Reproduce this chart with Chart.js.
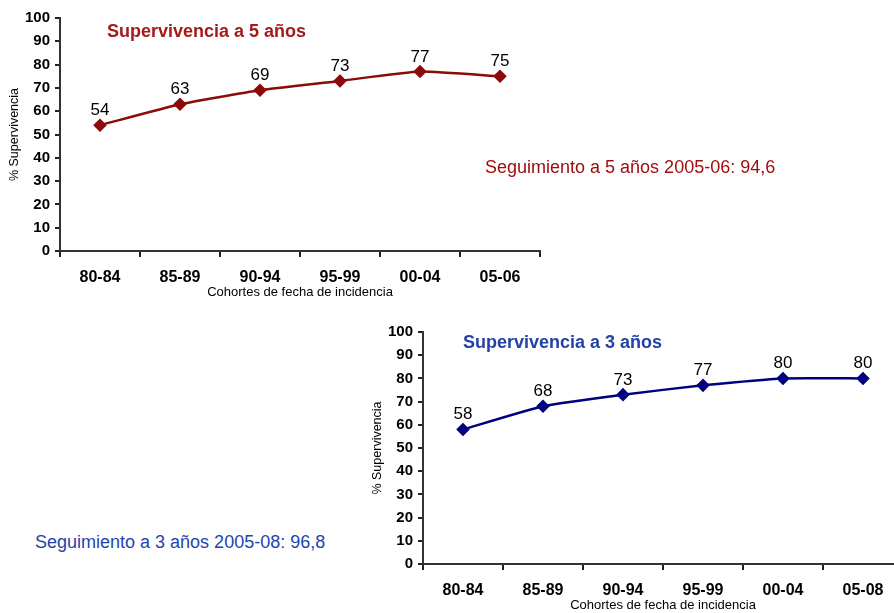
<!DOCTYPE html>
<html>
<head>
<meta charset="utf-8">
<script src="https://cdn.jsdelivr.net/npm/chart.js@4.4.1/dist/chart.umd.min.js"></script>
<style>
html,body{margin:0;padding:0;width:894px;height:613px;overflow:hidden;background:#fff;position:relative;font-family:"Liberation Sans",Arial,sans-serif}
canvas{position:absolute;display:block}
.t{position:absolute;white-space:nowrap;line-height:1;font-size:18px}
</style>
</head>
<body>
<canvas id="c1" width="560" height="300" style="left:0;top:0;width:560px;height:300px"></canvas>
<canvas id="c2" width="560" height="299" style="left:363px;top:314px;width:560px;height:299px"></canvas>
<div class="t" style="left:107px;top:22px;font-weight:bold;color:#A31A1E">Supervivencia a 5 años</div>
<div class="t" style="left:485px;top:158px;color:#A00D10">Seguimiento a 5 años 2005-06: 94,6</div>
<div class="t" style="left:463px;top:333px;font-weight:bold;color:#2442A6">Supervivencia a 3 años</div>
<div class="t" style="left:35px;top:533px;color:#2344B0">Seguimiento a 3 años 2005-08: 96,8</div>
<script>
const categories5 = ['80-84','85-89','90-94','95-99','00-04','05-06'];
const survival5 = [54,63,69,73,77,75];
const categories3 = ['80-84','85-89','90-94','95-99','00-04','05-08'];
const survival3 = [58,68,73,77,80,80];
const yMin = 0, yMax = 100, yStep = 10;
const yTitle = '% Supervivencia';
const xTitle = 'Cohortes de fecha de incidencia';

const FONT = '"Liberation Sans", Arial, sans-serif';

const valueLabels = {
  id: 'valueLabels',
  afterDatasetsDraw(chart) {
    const ctx = chart.ctx;
    chart.data.datasets.forEach((ds, i) => {
      const meta = chart.getDatasetMeta(i);
      meta.data.forEach((pt, j) => {
        ctx.save();
        ctx.font = '17px ' + FONT;
        ctx.fillStyle = '#000';
        ctx.textAlign = 'center';
        ctx.textBaseline = 'alphabetic';
        ctx.fillText(String(ds.data[j]), pt.x, pt.y - 10);
        ctx.restore();
      });
    });
  }
};

function makeChart(id, labels, values, color) {
  return new Chart(document.getElementById(id), {
    type: 'line',
    data: {
      labels: labels,
      datasets: [{
        data: values,
        borderColor: color,
        backgroundColor: color,
        borderWidth: 2.5,
        pointStyle: 'rectRot',
        pointRadius: 5,
        pointHoverRadius: 5,
        tension: 0.15,
        fill: false
      }]
    },
    options: {
      responsive: false,
      animation: false,
      layout: { padding: { top: 18, right: 20, left: 0, bottom: 0 } },
      plugins: { legend: { display: false }, tooltip: { enabled: false }, title: { display: false } },
      scales: {
        x: {
          type: 'category',
          offset: true,
          grid: { display: true, drawOnChartArea: false, drawTicks: true, tickLength: 6, offset: true, color: '#222', lineWidth: 2 },
          border: { display: true, color: '#333', width: 2 },
          ticks: { font: { family: FONT, size: 16, weight: 'bold' }, color: '#000', padding: 11, maxRotation: 0, autoSkip: false },
          title: { display: true, text: xTitle, font: { family: FONT, size: 13 }, color: '#000', padding: { top: 0, bottom: 0 } },
          afterFit(s) { s.height = 49; }
        },
        y: {
          min: yMin, max: yMax,
          ticks: { stepSize: yStep, font: { family: FONT, size: 15, weight: 'bold' }, color: '#000', padding: 5 },
          grid: { display: true, drawOnChartArea: false, drawTicks: true, tickLength: 5, color: '#222', lineWidth: 2 },
          border: { display: true, color: '#333', width: 2 },
          title: { display: true, text: yTitle, font: { family: FONT, size: 12.5 }, color: '#000', padding: { top: 7.5, bottom: 0 } },
          afterFit(s) { s.width = 60; }
        }
      }
    },
    plugins: [valueLabels]
  });
}

makeChart('c1', categories5, survival5, '#8B0A0A');
makeChart('c2', categories3, survival3, '#00007F');
</script>
</body>
</html>
